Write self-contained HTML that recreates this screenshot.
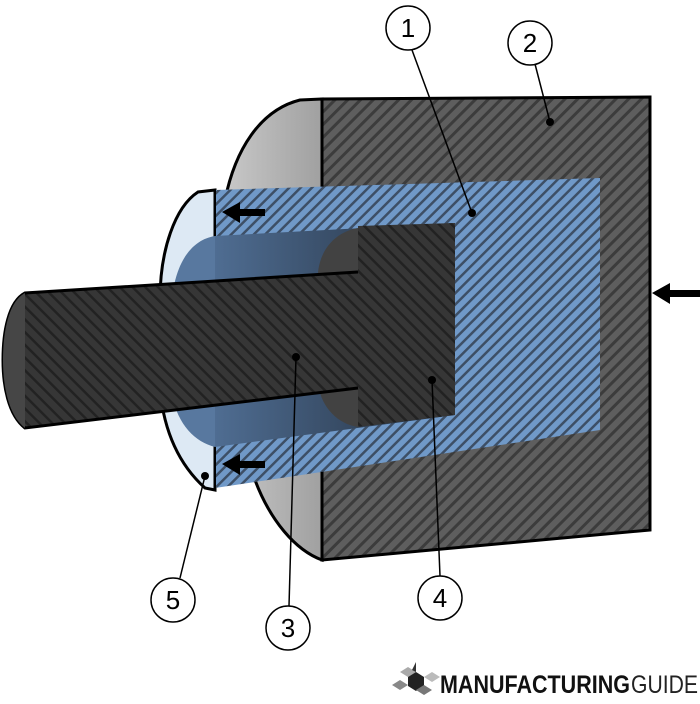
<!DOCTYPE html>
<html><head><style>
html,body{margin:0;padding:0;background:#fff;width:700px;height:704px;overflow:hidden}
</style></head><body>
<svg width="700" height="704" viewBox="0 0 700 704" xmlns="http://www.w3.org/2000/svg">
<defs>
<pattern id="hg" width="9" height="9" patternUnits="userSpaceOnUse" patternTransform="rotate(-45)">
<rect width="9" height="9" fill="#5e5e5e"/><rect width="9" height="3" fill="#3c3c3c"/></pattern>
<pattern id="hb" width="8" height="8" patternUnits="userSpaceOnUse" patternTransform="rotate(-45)">
<rect width="8" height="8" fill="#7099c8"/><rect width="8" height="2.5" fill="#3d4f66"/></pattern>
<pattern id="hd" width="9" height="9" patternUnits="userSpaceOnUse" patternTransform="rotate(45)">
<rect width="9" height="9" fill="#363636"/><rect width="9" height="2.5" fill="#222"/></pattern>
<linearGradient id="cav" x1="0" y1="0" x2="1" y2="0"><stop offset="0" stop-color="#4f6d92"/><stop offset="0.6" stop-color="#34475f"/><stop offset="1" stop-color="#1f2a38"/></linearGradient>
<linearGradient id="gf" x1="0" y1="0" x2="1" y2="0"><stop offset="0" stop-color="#c8c8c8"/><stop offset="1" stop-color="#a0a0a0"/></linearGradient>
</defs>
<path d="M322,99 L300,100 C260,110 235,150 225,200 L255,480 C270,520 295,550 322,560 Z" fill="url(#gf)" stroke="#000" stroke-width="3"/>
<path d="M322,99 L650,97 L650,530 L322,560 Z" fill="url(#hg)" stroke="#000" stroke-width="3"/>
<path d="M215,190 L198,192 C175,207 160,250 160,300 L160,390 C165,440 185,470 205,488 L215,490 Z" fill="#dde9f4" stroke="#000" stroke-width="3"/>
<path d="M215,190 L600,178 L600,430 L215,488 Z" fill="url(#hb)"/>
<path d="M215,190 L215,488" stroke="#000" stroke-width="2"/>
<path d="M215,236 L455,223 L455,415 L215,447 Z" fill="url(#cav)"/>
<path d="M215,236 C190,240 175,265 172,300 L172,395 C178,425 195,442 215,447 Z" fill="#58789f"/>
<path d="M358,226 L455,223 L455,415 L358,427 Z" fill="url(#hd)"/>
<path d="M358,228 C335,232 320,250 318,273 L358,273 Z M358,385 L318,385 C322,408 338,424 358,427 Z" fill="#424242"/>
<path d="M25,293 L358,272 L358,388 L25,428 C8,415 3,385 3,360 C3,333 8,302 25,293 Z" fill="url(#hd)"/>
<path d="M358,272 L25,293 C8,302 3,333 3,360 C3,385 8,415 25,428 L358,388" fill="none" stroke="#000" stroke-width="3"/>
<path d="M25,293 C8,302 3,333 3,360 C3,385 8,415 25,428 Z" fill="#464646"/>
<g fill="#000">
<rect x="235" y="209" width="30" height="7"/><path d="M222,212 L240,202 L240,223 Z"/>
<rect x="235" y="461" width="30" height="7"/><path d="M222,464 L240,454 L240,475 Z"/>
<rect x="667" y="290" width="33" height="7"/><path d="M652,293 L670,283 L670,304 Z"/>
</g>
<g stroke="#000" stroke-width="1.5" fill="none">
<line x1="412" y1="50" x2="472" y2="213"/>
<line x1="535" y1="64" x2="550" y2="122"/>
<line x1="180" y1="578" x2="205" y2="476"/>
<line x1="289" y1="606" x2="296" y2="357"/>
<line x1="440" y1="576" x2="432" y2="380"/>
</g>
<g fill="#000">
<circle cx="472" cy="213" r="4"/><circle cx="550" cy="122" r="4"/><circle cx="205" cy="476" r="4"/><circle cx="296" cy="357" r="4"/><circle cx="432" cy="380" r="4"/>
</g>
<g fill="#fff" stroke="#000" stroke-width="1.5">
<circle cx="408" cy="28" r="22"/><circle cx="530" cy="43" r="22"/><circle cx="173" cy="600" r="22"/><circle cx="288" cy="628" r="22"/><circle cx="440" cy="598" r="22"/>
</g>
<g font-family="Liberation Sans, sans-serif" font-size="26" text-anchor="middle" fill="#000">
<text x="408" y="37">1</text><text x="530" y="52">2</text><text x="173" y="609">5</text><text x="288" y="637">3</text><text x="440" y="607">4</text>
</g>
<g>
<path d="M400,672 l8,-5 l8,5 l-8,5 z" fill="#aaa"/><path d="M392,685 l8,-5 l8,5 l-8,5 z" fill="#888"/>
<path d="M408,677 l8,-5 l8,5 v9 l-8,5 l-8,-5 z" fill="#222"/><path d="M412,670 l4,-8 v10 z" fill="#333"/>
<path d="M416,690 l8,-5 l8,5 l-8,5 z" fill="#777"/><path d="M424,677 l8,-5 l8,5 l-8,5 z" fill="#bbb"/>
</g>
<text x="440" y="693" font-family="Liberation Sans, sans-serif" font-size="25" font-weight="bold" fill="#111" textLength="190" lengthAdjust="spacingAndGlyphs">MANUFACTURING</text>
<text x="631" y="693" font-family="Liberation Sans, sans-serif" font-size="25" fill="#222" textLength="67" lengthAdjust="spacingAndGlyphs">GUIDE</text>
</svg>
</body></html>
